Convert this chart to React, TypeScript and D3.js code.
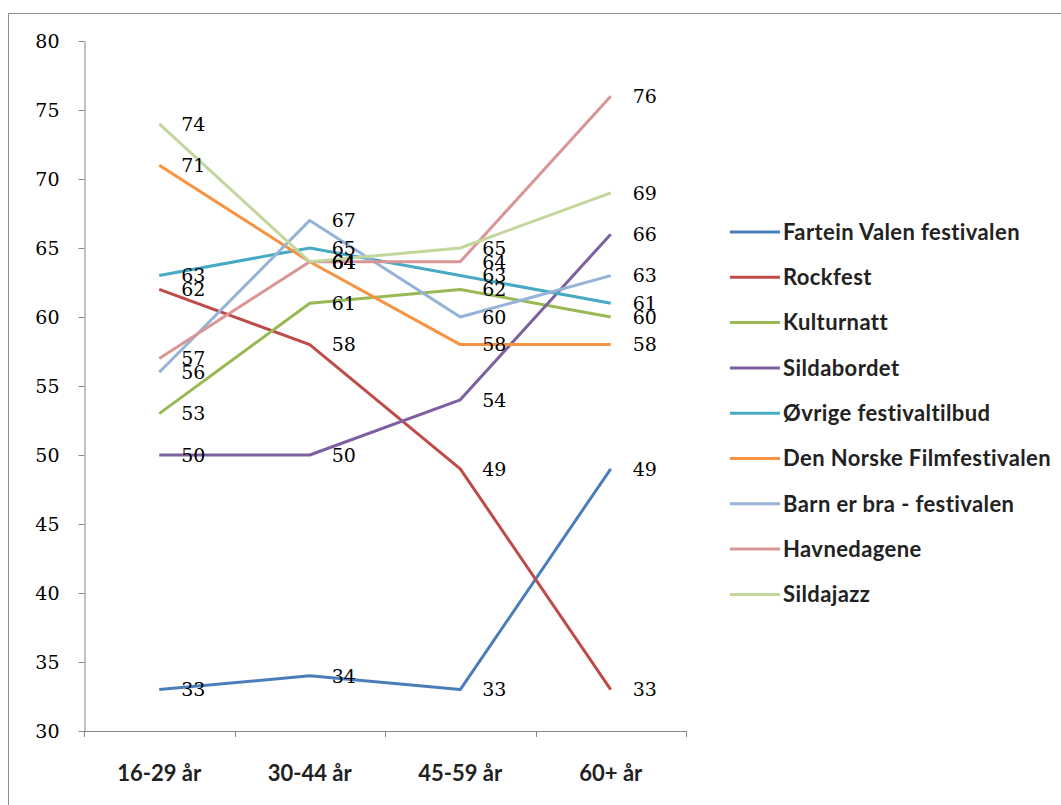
import * as d3 from "d3";
import { useEffect, useRef } from "react";

const categories = ["16-29 år", "30-44 år", "45-59 år", "60+ år"];

const seriesNames = [
  "Fartein Valen festivalen",
  "Rockfest",
  "Kulturnatt",
  "Sildabordet",
  "Øvrige festivaltilbud",
  "Den Norske Filmfestivalen",
  "Barn er bra - festivalen",
  "Havnedagene",
  "Sildajazz",
];

const farteinValen = [33, 34, 33, 49];
const rockfest = [62, 58, 49, 33];
const kulturnatt = [53, 61, 62, 60];
const sildabordet = [50, 50, 54, 66];
const ovrige = [63, 65, 63, 61];
const filmfestival = [71, 64, 58, 58];
const barnErBra = [56, 67, 60, 63];
const havnedagene = [57, 64, 64, 76];
const sildajazz = [74, 64, 65, 69];

const seriesValues = [
  farteinValen,
  rockfest,
  kulturnatt,
  sildabordet,
  ovrige,
  filmfestival,
  barnErBra,
  havnedagene,
  sildajazz,
];

const colors = [
  "#4A7EBB",
  "#BE4B48",
  "#98B954",
  "#7D60A0",
  "#46AAC5",
  "#F69240",
  "#95B3D7",
  "#D99694",
  "#C3D69B",
];

const yTicks = [30, 35, 40, 45, 50, 55, 60, 65, 70, 75, 80];

const App = () => {
  const chartRef = useRef(null);

  useEffect(() => {
    const svg = d3.select(chartRef.current);
    svg.selectAll("*").remove();

    const left = 84;
    const right = 686;
    const top = 41;
    const bottom = 731;
    const numFont = "'DejaVu Serif', serif";
    const textFont = "Lato, 'Open Sans', sans-serif";

    // рамка
    svg.append("rect")
      .attr("x", 8.5)
      .attr("y", 13.5)
      .attr("width", 1100)
      .attr("height", 900)
      .attr("fill", "white")
      .attr("stroke", "#8c8c8c")
      .attr("stroke-width", 1);

    const xScale = d3.scaleBand().domain(categories).range([left, right]);
    const yScale = d3.scaleLinear().domain([30, 80]).range([bottom, top]);
    const cx = (c) => xScale(c) + xScale.bandwidth() / 2;

    // ось Y
    const yAxis = svg.append("g")
      .attr("transform", `translate(${left + 0.5},0)`)
      .call(d3.axisLeft(yScale).tickValues(yTicks).tickSize(6).tickSizeOuter(0).tickPadding(19));
    yAxis.select(".domain").attr("stroke", "#868686");
    yAxis.selectAll(".tick line").attr("stroke", "#868686");
    yAxis.selectAll("text")
      .attr("font-family", numFont)
      .attr("font-size", 19)
      .attr("fill", "#000");

    // ось X
    const xg = svg.append("g");
    xg.append("line")
      .attr("x1", left)
      .attr("x2", right)
      .attr("y1", bottom + 0.5)
      .attr("y2", bottom + 0.5)
      .attr("stroke", "#868686");
    const bounds = categories.map((c) => xScale(c)).concat([right]);
    xg.selectAll(".xtick")
      .data(bounds)
      .enter()
      .append("line")
      .attr("x1", (d) => Math.round(d) + 0.5)
      .attr("x2", (d) => Math.round(d) + 0.5)
      .attr("y1", bottom)
      .attr("y2", bottom + 6)
      .attr("stroke", "#868686");
    xg.selectAll(".xlabel")
      .data(categories)
      .enter()
      .append("text")
      .attr("x", (d) => cx(d))
      .attr("y", 781)
      .attr("text-anchor", "middle")
      .attr("font-family", textFont)
      .attr("font-size", 22)
      .attr("font-weight", "bold")
      .attr("fill", "#222")
      .text((d) => d);

    // линии
    const line = d3.line()
      .x((d, i) => cx(categories[i]))
      .y((d) => yScale(d));

    seriesValues.forEach((vals, s) => {
      svg.append("path")
        .datum(vals)
        .attr("d", line)
        .attr("fill", "none")
        .attr("stroke", colors[s])
        .attr("stroke-width", 3)
        .attr("stroke-linejoin", "round");
    });

    // подписи значений
    seriesValues.forEach((vals) => {
      svg.selectAll(null)
        .data(vals)
        .enter()
        .append("text")
        .attr("x", (d, i) => cx(categories[i]) + 22)
        .attr("y", (d) => yScale(d))
        .attr("dy", "0.36em")
        .attr("font-family", numFont)
        .attr("font-size", 19)
        .attr("fill", "#000")
        .text((d) => d);
    });

    // легенда
    const legend = svg.append("g");
    seriesNames.forEach((name, i) => {
      const y = 232 + i * 45.3;
      legend.append("line")
        .attr("x1", 730)
        .attr("x2", 780)
        .attr("y1", y)
        .attr("y2", y)
        .attr("stroke", colors[i])
        .attr("stroke-width", 3);
      legend.append("text")
        .attr("x", 783)
        .attr("y", y)
        .attr("dy", "0.35em")
        .attr("font-family", textFont)
        .attr("font-size", 22)
        .attr("font-weight", "bold")
        .attr("letter-spacing", 0.4)
        .attr("fill", "#222")
        .text(name);
    });
  }, []);

  return (
    <svg
      ref={chartRef}
      width="1061"
      height="805"
      style={{ position: "absolute", left: 0, top: 0 }}
    ></svg>
  );
};

export default App;
